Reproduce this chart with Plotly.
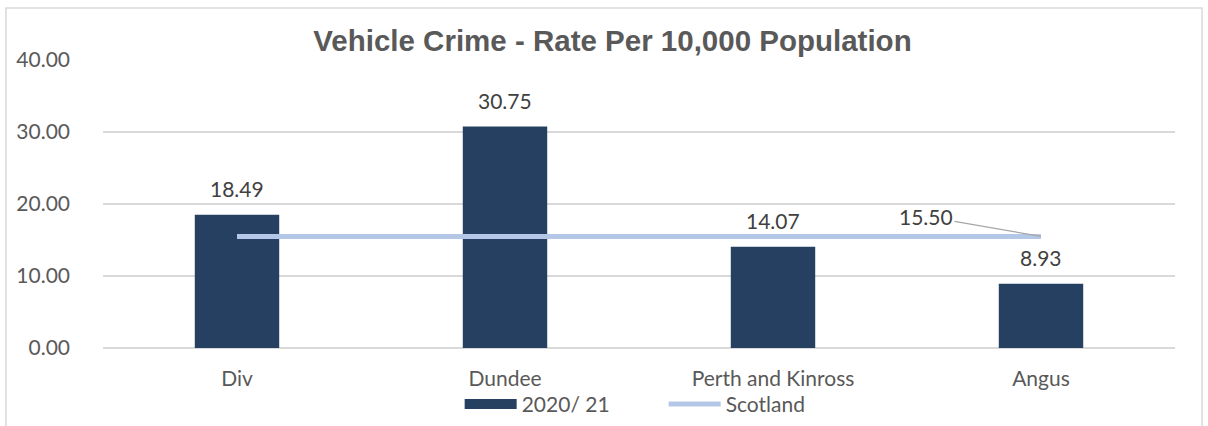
import plotly.graph_objects as go

categories = ["Div", "Dundee", "Perth and Kinross", "Angus"]
rate_2020_21 = [18.49, 30.75, 14.07, 8.93]
scotland = [15.50, 15.50, 15.50, 15.50]
y_ticks = [0, 10, 20, 30, 40]
title_text = "Vehicle Crime - Rate Per 10,000 Population"

BAR = "#264061"
LINE = "#B4C7E7"
TXT = "#595959"
FONT = "Lato"

fig = go.Figure()
fig.add_trace(go.Bar(
    x=categories, y=rate_2020_21, name="2020/ 21",
    marker=dict(color=BAR, line=dict(width=0)),
    width=0.315, showlegend=False,
))
# legend-only entry to draw a wide rectangular swatch like the reference
fig.add_trace(go.Scatter(
    x=[None], y=[None], name="2020/ 21", mode="lines",
    line=dict(color=BAR, width=14),
))
fig.add_trace(go.Scatter(
    x=categories, y=scotland, name="Scotland", mode="lines",
    line=dict(color=LINE, width=5),
))

annotations = []
for c, v in zip(categories, rate_2020_21):
    annotations.append(dict(
        x=c, y=v, text=f"{v:.2f}", showarrow=False, yshift=26,
        font=dict(family=FONT, size=21, color="#404040"),
    ))
annotations.append(dict(
    x=categories[-1], y=scotland[-1], text=f"{scotland[-1]:.2f}",
    showarrow=True, arrowhead=0, arrowwidth=1.2, arrowcolor="#A6A6A6",
    ax=-115, ay=-20, standoff=0,
    font=dict(family=FONT, size=21, color="#404040"),
))

fig.update_layout(
    width=1208, height=426,
    margin=dict(l=103, r=33, t=60, b=78, autoexpand=False),
    paper_bgcolor="white", plot_bgcolor="white",
    title=dict(text=title_text, x=0.507, xanchor="center", y=0.905, yanchor="middle",
               font=dict(family="Liberation Sans", size=29.5, color=TXT, weight="bold")),
    showlegend=True,
    legend=dict(orientation="h", x=0.523, xanchor="center", y=-0.196, yanchor="middle",
                font=dict(family=FONT, size=21, color=TXT), itemwidth=52,
                entrywidth=137, entrywidthmode="pixels",
                bgcolor="rgba(0,0,0,0)", traceorder="normal"),
    annotations=annotations,
    shapes=[dict(type="rect", xref="paper", yref="paper",
                 x0=-0.0905, x1=1.0252, y0=-0.35, y1=1.1806,
                 line=dict(color="#D9D9D9", width=1.5), fillcolor="rgba(0,0,0,0)",
                 layer="below")],
)
fig.update_xaxes(
    showgrid=False, showline=False, ticks="", automargin=False,
    tickfont=dict(family=FONT, size=21, color=TXT),
    ticklabelstandoff=16,
)
fig.update_yaxes(
    range=[0, 40], tickvals=y_ticks, tickformat=".2f", automargin=False,
    showgrid=True, gridcolor="#D9D9D9", gridwidth=1.5,
    zeroline=True, zerolinecolor="#D9D9D9", zerolinewidth=1.5,
    showline=False, ticks="",
    tickfont=dict(family=FONT, size=21, color=TXT),
    ticklabelstandoff=32,
)

fig.write_html("out.html", config={"displayModeBar": False},
               post_script="document.body.style.margin='0';")
